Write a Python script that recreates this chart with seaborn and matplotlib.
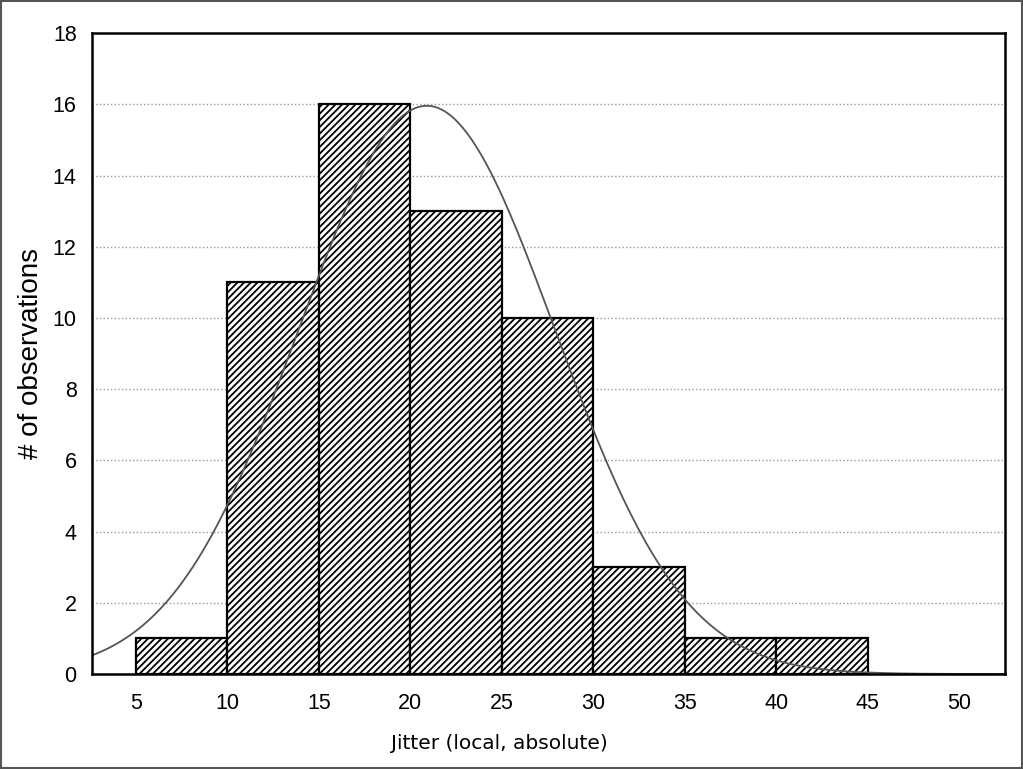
import numpy as np
import pandas as pd
import seaborn as sns
import matplotlib.pyplot as plt
from matplotlib.patches import Rectangle

# histogram counts per 5-unit bin
bin_edges = [5, 10, 15, 20, 25, 30, 35, 40, 45]
counts = [1, 11, 16, 13, 10, 3, 1, 1]
# fitted normal curve
curve_mean = 20.9
curve_sd = 7.0
n_obs = sum(counts)
bin_width = 5

df = pd.DataFrame({
    "jitter": [(a + b) / 2 for a, b in zip(bin_edges[:-1], bin_edges[1:])],
    "count": counts,
})

sns.set_style("white")
plt.rcParams['font.family'] = ['Liberation Sans', 'DejaVu Sans']
plt.rcParams['hatch.linewidth'] = 1.3
plt.rcParams['text.color'] = 'black'
plt.rcParams['axes.labelcolor'] = 'black'
plt.rcParams['xtick.color'] = 'black'
plt.rcParams['ytick.color'] = 'black'

fig = plt.figure(figsize=(10.23, 7.69), dpi=100)
ax = fig.add_axes([0.0899, 0.1235, 0.8925, 0.8335])

sns.histplot(data=df, x="jitter", weights="count", bins=bin_edges,
             color="white", edgecolor="black", linewidth=1.6, alpha=1, ax=ax)
for p in ax.patches:
    p.set_hatch("/////")

xs = np.linspace(2.6, 52.5, 400)
ys = n_obs * bin_width / (curve_sd * np.sqrt(2 * np.pi)) * np.exp(-0.5 * ((xs - curve_mean) / curve_sd) ** 2)
sns.lineplot(x=xs, y=ys, color="#555555", linewidth=1.3, ax=ax)

ax.set_xlim(2.6, 52.5)
ax.set_ylim(0, 18)
ax.set_xticks([5, 10, 15, 20, 25, 30, 35, 40, 45, 50])
ax.set_yticks(range(0, 19, 2))
ax.tick_params(direction="in", length=5, width=1.5, labelsize=15.5)
ax.tick_params(axis="x", pad=14)
ax.tick_params(axis="y", pad=11)
for s in ax.spines.values():
    s.set_linewidth(1.8)
    s.set_color("black")
for y in range(2, 18, 2):
    ax.axhline(y, color="#999999", linestyle=":", linewidth=1, zorder=0)

ax.set_xlabel("Jitter (local, absolute)", fontsize=14.5, family="DejaVu Sans")
ax.xaxis.set_label_coords(0.446, -0.093)
ax.set_ylabel("# of observations", fontsize=20)
ax.yaxis.set_label_coords(-0.052, 0.5)

fig.patches.append(Rectangle((0.001, 0.001), 0.998, 0.998, transform=fig.transFigure,
                             fill=False, edgecolor="#555555", linewidth=1.5))

plt.savefig("out.png", dpi=100)
